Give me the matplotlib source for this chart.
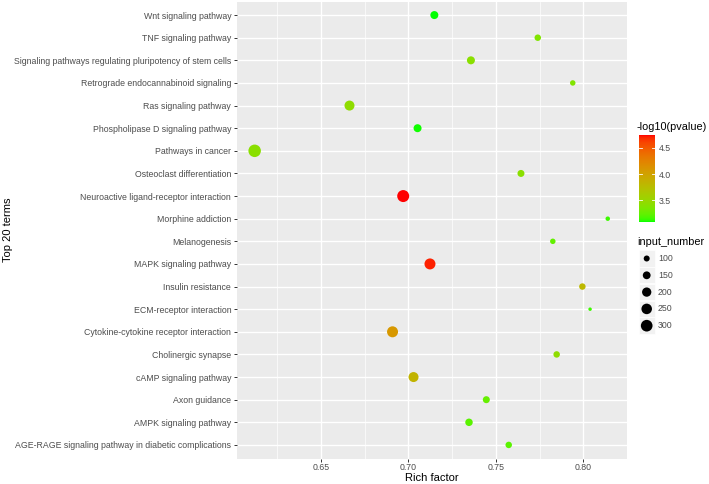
import numpy as np
import matplotlib
matplotlib.use("Agg")
import matplotlib.pyplot as plt
from matplotlib.colors import ListedColormap, Normalize
from matplotlib.colorbar import ColorbarBase
from matplotlib.patches import Rectangle

plt.rcParams['font.family'] = ['Liberation Sans', 'DejaVu Sans']

# ---------------- data (bottom -> top, alphabetical as in ggplot) ----------------
terms = [
    "AGE-RAGE signaling pathway in diabetic complications",
    "AMPK signaling pathway",
    "Axon guidance",
    "cAMP signaling pathway",
    "Cholinergic synapse",
    "Cytokine-cytokine receptor interaction",
    "ECM-receptor interaction",
    "Insulin resistance",
    "MAPK signaling pathway",
    "Melanogenesis",
    "Morphine addiction",
    "Neuroactive ligand-receptor interaction",
    "Osteoclast differentiation",
    "Pathways in cancer",
    "Phospholipase D signaling pathway",
    "Ras signaling pathway",
    "Retrograde endocannabinoid signaling",
    "Signaling pathways regulating pluripotency of stem cells",
    "TNF signaling pathway",
    "Wnt signaling pathway",
]
rich_factor = [0.7574, 0.7347, 0.7446, 0.7030, 0.7848, 0.6910, 0.8039, 0.7995,
               0.7124, 0.7826, 0.8140, 0.6971, 0.7644, 0.6122, 0.7053, 0.6664,
               0.7940, 0.7358, 0.7740, 0.7149]
neg_log10_p = [3.22, 3.22, 3.26, 3.84, 3.45, 4.08, 3.15, 3.80,
               4.70, 3.25, 3.15, 4.74, 3.42, 3.42, 3.10, 3.45,
               3.38, 3.42, 3.38, 3.09]
input_number = [112, 140, 126, 228, 112, 270, 52, 112,
                270, 88, 68, 316, 126, 340, 156, 228,
                88, 156, 112, 156]
size_breaks = [100, 150, 200, 250, 300]
cbar_ticks = [3.5, 4.0, 4.5]
x_ticks = [0.65, 0.70, 0.75, 0.80]

# ---------------- helpers ----------------
def size_of(c):
    c = np.asarray(c, dtype=float)
    d2 = np.maximum(0.5 * c - 14.0, 6.0)   # diameter^2 in px
    return 0.5184 * d2                      # points^2 at 100 dpi

def _to_lab(rgb):
    rgb = np.asarray(rgb, float)
    lin = np.where(rgb <= 0.04045, rgb / 12.92, ((rgb + 0.055) / 1.055) ** 2.4)
    M = np.array([[0.4124564, 0.3575761, 0.1804375],
                  [0.2126729, 0.7151522, 0.0721750],
                  [0.0193339, 0.1191920, 0.9503041]])
    xyz = M @ lin
    wp = np.array([0.95047, 1.0, 1.08883])
    t = xyz / wp
    f = np.where(t > (6/29)**3, np.cbrt(t), t / (3*(6/29)**2) + 4/29)
    return np.array([116*f[1]-16, 500*(f[0]-f[1]), 200*(f[1]-f[2])])

def _from_lab(lab):
    L, a, b = lab
    fy = (L + 16) / 116
    fx = fy + a / 500
    fz = fy - b / 200
    def finv(f):
        return np.where(f > 6/29, f**3, 3*(6/29)**2*(f - 4/29))
    wp = np.array([0.95047, 1.0, 1.08883])
    xyz = np.array([finv(fx), finv(fy), finv(fz)]) * wp
    Minv = np.array([[3.2404542, -1.5371385, -0.4985314],
                     [-0.9692660, 1.8760108, 0.0415560],
                     [0.0556434, -0.2040259, 1.0572252]])
    lin = Minv @ xyz
    lin = np.clip(lin, 0, 1)
    rgb = np.where(lin <= 0.0031308, 12.92*lin, 1.055*lin**(1/2.4) - 0.055)
    return np.clip(rgb, 0, 1)

lab_lo = _to_lab([0.0, 1.0, 0.0])
lab_hi = _to_lab([1.0, 0.0, 0.0])
cols = [_from_lab(lab_lo + (lab_hi - lab_lo) * t) for t in np.linspace(0, 1, 256)]
cmap = ListedColormap(cols)
norm = Normalize(vmin=min(neg_log10_p), vmax=max(neg_log10_p))

# ---------------- figure ----------------
W, H = 709, 484
fig = plt.figure(figsize=(W/100, H/100), dpi=100)
fig.patch.set_facecolor('white')

def px_axes(x0, y0, x1, y1):
    return fig.add_axes([x0/W, 1 - y1/H, (x1-x0)/W, (y1-y0)/H])

ax = px_axes(237, 1.5, 627, 458.5)
ax.set_facecolor('#EBEBEB')
ypos = np.arange(len(terms))
ax.scatter(rich_factor, ypos, s=size_of(input_number), c=neg_log10_p,
           cmap=cmap, norm=norm, linewidths=0, zorder=3)

xr = max(rich_factor) - min(rich_factor)
ax.set_xlim(min(rich_factor) - 0.05*xr, max(rich_factor) + 0.05*xr)
ax.set_ylim(-0.6, len(terms) - 0.4)
ax.set_xticks(x_ticks)
ax.set_xticklabels([f"{v:.2f}" for v in x_ticks])
minor = [(x_ticks[i] + x_ticks[i+1]) / 2 for i in range(len(x_ticks)-1)]
minor = [x_ticks[0] - 0.025] + minor + [x_ticks[-1] + 0.025]
ax.set_xticks(minor, minor=True)
ax.set_yticks(ypos)
ax.set_yticklabels(terms)
ax.grid(True, which='major', color='white', linewidth=1.0, zorder=0)
ax.grid(True, which='minor', axis='x', color='white', linewidth=0.5, zorder=0)
ax.set_axisbelow(True)
for sp in ax.spines.values():
    sp.set_visible(False)
ax.tick_params(axis='both', which='major', length=2.2, width=0.7, color='#333333',
               labelcolor='#4D4D4D', labelsize=6.3, pad=2.0)
ax.tick_params(axis='x', which='major', pad=1.2)
ax.tick_params(axis='x', which='minor', length=0)
ax.set_xlabel("Rich factor", fontsize=8, color='black')
ax.xaxis.set_label_coords(0.5, (458.5 - 478) / 457)
ax.xaxis.label.set_va('center')
ax.set_ylabel("Top 20 terms", fontsize=8, color='black')
ax.yaxis.set_label_coords((8 - 237) / 390, 0.5)
ax.yaxis.label.set_va('center')

# ---------------- colorbar ----------------
fig.text(637/W, 1 - 127/H, "-log10(pvalue)", fontsize=7.8, color='black',
         ha='left', va='center')
cax = px_axes(639, 135, 655, 222)
cb = ColorbarBase(cax, cmap=cmap, norm=norm, orientation='vertical')
cb.outline.set_visible(False)
cb.set_ticks(cbar_ticks)
cb.set_ticklabels([f"{v:.1f}" for v in cbar_ticks])
cax.tick_params(length=0, labelsize=6.3, labelcolor='#4D4D4D', pad=3)
for v in cbar_ticks:
    cax.plot([0, 0.2], [v, v], color='white', lw=0.6, transform=cax.get_yaxis_transform())
    cax.plot([0.8, 1.0], [v, v], color='white', lw=0.6, transform=cax.get_yaxis_transform())

# ---------------- size legend ----------------
fig.text(637/W, 1 - 242/H, "input_number", fontsize=7.8, color='black',
         ha='left', va='center')
lax = px_axes(636, 250, 700, 335)
lax.set_xlim(636, 700)
lax.set_ylim(335, 250)
lax.axis('off')
key_y = [258.5 + 16.8*i for i in range(len(size_breaks))]
for yk in key_y:
    lax.add_patch(Rectangle((638.5, yk - 8.2), 16.4, 16.4, facecolor='#F2F2F2',
                            edgecolor='white', linewidth=0.5, zorder=1))
lax.scatter([646.7]*len(size_breaks), key_y, s=size_of(size_breaks), color='black',
            linewidths=0, zorder=3, clip_on=False)
for yk, b in zip(key_y, size_breaks):
    lax.text(658, yk, str(b), fontsize=6.3, color='#4D4D4D', ha='left', va='center')

fig.savefig("out.png", dpi=100)
